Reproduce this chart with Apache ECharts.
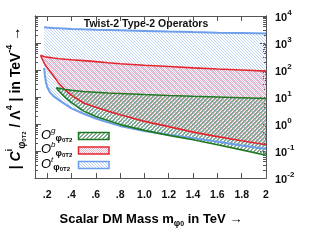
<!DOCTYPE html>
<html><head><meta charset="utf-8">
<script src="https://cdn.jsdelivr.net/npm/echarts@6/dist/echarts.min.js"></script>
<style>html,body{margin:0;padding:0;background:#fff}#c{width:327px;height:245px}</style>
</head><body><div id="c"></div>
<script>
// ---- data ----
const xTickValues = [0.2,0.4,0.6,0.8,1.0,1.2,1.4,1.6,1.8,2.0];
const yDecades = [0.01,0.1,1,10,100,1000,10000];

const blueX     = [0.175,0.18,0.19,0.2,0.22,0.25,0.3,0.4,0.5,0.6,0.7,0.8,1.0,1.2,1.4,1.6,1.8,2.0];
const blueUpper = [3800,3790,3760,3730,3680,3600,3500,3330,3200,3100,3020,2950,2800,2650,2530,2420,2330,2250];
const blueLower = [120,70,35,24,15.5,11,7.5,3.8,2.4,1.6,1.15,0.85,0.55,0.4,0.3,0.22,0.16,0.118];

const redX      = [0.146,0.16,0.18,0.2,0.214,0.25,0.3,0.35,0.4,0.5,0.6,0.7,0.8,1.0,1.2,1.4,1.6,1.8,2.0];
const redUpper  = [350,330,310,300,293,278,262,250,240,222,205,185,170,150,134,120,109,100,91];
const redLower  = [350,250,165,120,100,62,30,18,11.5,6.0,4.2,3.0,2.2,1.25,0.8,0.5,0.34,0.24,0.17];

const greenX     = [0.276,0.3,0.35,0.4,0.5,0.6,0.7,0.8,1.0,1.2,1.4,1.6,1.8,2.0];
const greenUpper = [22,21,19,17.8,16,15,14,13.5,12.3,11.4,10.6,10,9.4,8.8];
const greenLower = [22,16,9.5,6.2,3.0,1.9,1.35,0.95,0.58,0.38,0.26,0.17,0.11,0.07];

const legendNames = ['g','b','t'];

// ---- patterns ----
function makeTile(w,h,fn){
  const c=document.createElement('canvas'); c.width=w; c.height=h;
  const g=c.getContext('2d');
  for(let y=0;y<h;y++) for(let x=0;x<w;x++){ const col=fn(x,y); if(col){g.fillStyle=col; g.fillRect(x,y,1,1);} }
  return {image:c, repeat:'repeat'};
}
const bluePat  = makeTile(3,3,(x,y)=> (x===y) ? '#bcd3f4' : null);
const redPat   = makeTile(2,2,(x,y)=> ((x+y)%2===0) ? '#ebb2cc' : null);
const greenPat = makeTile(4,4,(x,y)=> ((x+y)%4<2) ? '#82a98d' : null);

const BLUE='#6d9eea', RED='#e3262d', GREEN='#1f7a22';
const FONT='Liberation Sans, Arial, sans-serif';

function band(name, xs, up, lo, pat){
  return {type:'custom', name, silent:true, clip:true, xAxisIndex:0, yAxisIndex:0,
    data:[[1,1]],
    renderItem:(params, api)=>{
      const pts=[];
      for(let i=0;i<xs.length;i++) pts.push(api.coord([xs[i], up[i]]));
      for(let i=xs.length-1;i>=0;i--) pts.push(api.coord([xs[i], lo[i]]));
      return {type:'polygon', shape:{points:pts}, style:{fill:pat, stroke:null}};
    }};
}
function line(xs, ys, color, w){
  return {type:'line', xAxisIndex:0, yAxisIndex:0, data:xs.map((x,i)=>[x,ys[i]]),
    showSymbol:false, silent:true, lineStyle:{color, width:w}, itemStyle:{color}, z:5};
}

const minorVals=[];
for(let d=-2; d<4; d++) for(let m=2;m<10;m++) minorVals.push(m*Math.pow(10,d));

function fmtX(v){ const r=Math.round(v*10)/10; if(r===2) return '2'; if(r<1) return '.'+Math.round(r*10); return r.toFixed(1); }

const axisCommon = {axisLine:{show:true, lineStyle:{color:'#555', width:1}}, splitLine:{show:false}};

const xAxes = [
  Object.assign({type:'value', min:0.1, max:2, position:'bottom',
    axisTick:{inside:true, length:5, customValues:xTickValues, lineStyle:{color:'#555'}},
    axisLabel:{customValues:xTickValues, formatter:fmtX, fontFamily:FONT, fontWeight:'bold', fontSize:10.5, color:'#111', margin:12}}, axisCommon),
  Object.assign({type:'value', min:0.1, max:2, position:'top',
    axisTick:{inside:true, length:5, customValues:xTickValues, lineStyle:{color:'#555'}},
    axisLabel:{show:false}}, axisCommon)
];
const yAxes = [
  Object.assign({type:'log', logBase:10, min:0.01, max:10000, position:'left',
    axisTick:{inside:true, length:6, customValues:yDecades, lineStyle:{color:'#555'}}, axisLabel:{show:false}}, axisCommon),
  Object.assign({type:'log', logBase:10, min:0.01, max:10000, position:'left',
    axisTick:{inside:true, length:3, customValues:minorVals, lineStyle:{color:'#555'}}, axisLabel:{show:false}}, axisCommon),
  Object.assign({type:'log', logBase:10, min:0.01, max:10000, position:'right',
    axisTick:{inside:true, length:6, customValues:yDecades, lineStyle:{color:'#555'}},
    axisLabel:{customValues:yDecades, margin:9, formatter:v=>'{b|10}{s|'+Math.round(Math.log10(v))+'}',
      rich:{b:{fontFamily:FONT, fontWeight:'bold', fontSize:11, color:'#111', lineHeight:15, padding:[3,0,0,0]},
            s:{fontFamily:FONT, fontWeight:'bold', fontSize:8, color:'#111', lineHeight:9, verticalAlign:'top'}}}}, axisCommon),
  Object.assign({type:'log', logBase:10, min:0.01, max:10000, position:'right',
    axisTick:{inside:true, length:3, customValues:minorVals, lineStyle:{color:'#555'}}, axisLabel:{show:false}}, axisCommon)
];

const txtRich = {
  m:{fontFamily:FONT, fontWeight:'bold', fontSize:14, color:'#111', lineHeight:22},
  it:{fontFamily:FONT, fontWeight:'bold', fontStyle:'italic', fontSize:14, color:'#111', lineHeight:22},
  sup:{fontFamily:FONT, fontWeight:'bold', fontSize:9, color:'#111', lineHeight:12, verticalAlign:'top'},
  sphi:{fontFamily:FONT, fontWeight:'bold', fontSize:10, color:'#111', lineHeight:12, verticalAlign:'bottom'},
  s0:{fontFamily:FONT, fontWeight:'bold', fontSize:6, color:'#111', lineHeight:22, verticalAlign:'bottom'},
  sT:{fontFamily:FONT, fontWeight:'bold', fontSize:6, color:'#111', lineHeight:6, verticalAlign:'bottom'}
};
const xRich = {
  m:{fontFamily:FONT, fontWeight:'bold', fontSize:13, color:'#111', lineHeight:18},
  sphi:{fontFamily:FONT, fontWeight:'bold', fontSize:9, color:'#111', lineHeight:10, verticalAlign:'bottom'},
  s0:{fontFamily:FONT, fontWeight:'bold', fontSize:7, color:'#111', lineHeight:13, verticalAlign:'bottom'}
};
const legRich = {
  o:{fontFamily:FONT, fontStyle:'italic', fontSize:13, color:'#111', lineHeight:16},
  s:{fontFamily:FONT, fontStyle:'italic', fontSize:8, color:'#111', lineHeight:9, verticalAlign:'top'},
  p:{fontFamily:FONT, fontWeight:'bold', fontSize:9, color:'#111', lineHeight:10, verticalAlign:'bottom'},
  p0:{fontFamily:FONT, fontWeight:'bold', fontSize:6, color:'#111', lineHeight:17, verticalAlign:'bottom'},
  pt:{fontFamily:FONT, fontWeight:'bold', fontSize:6, color:'#111', lineHeight:5, verticalAlign:'bottom'}
};

const legendStyles = [[greenPat, GREEN],[redPat, RED],[bluePat, BLUE]];
const legendRows = [136, 150.5, 165];
const graphics = [
  {type:'text', x:146, y:24, style:{text:'Twist-2 Type-2 Operators', font:'bold 10.5px '+FONT, fill:'#111', align:'center', verticalAlign:'middle'}, z:20},
  {type:'text', x:151, y:219, style:{text:'{m|Scalar DM Mass m}{sphi|φ}{s0|0}{m| in TeV →}', rich:xRich, align:'center', verticalAlign:'middle'}, z:20},
  {type:'text', x:16, y:98, rotation:Math.PI/2, style:{text:'{m|| }{it|C}{sup|i}{sphi|φ}{s0|0}{sT|T2}{m| / Λ}{sup|4}{m| | in TeV}{sup|-4}{m| →}', rich:txtRich, align:'center', verticalAlign:'middle'}, z:20}
];
legendNames.forEach((n,i)=>{
  graphics.push({type:'text', x:41, y:legendRows[i]-1, style:{text:'{o|O}{s|'+n+'}{p|φ}{p0|0}{pt|T2}', rich:legRich, align:'left', verticalAlign:'middle'}, z:20});
  graphics.push({type:'rect', shape:{x:78.5, y:legendRows[i]-3.5, width:30.5, height:7}, style:{fill:legendStyles[i][0], stroke:legendStyles[i][1], lineWidth:1.5}, z:20});
});

const chart = echarts.init(document.getElementById('c'), null, {renderer:'canvas'});
chart.setOption({
  animation:false,
  backgroundColor:'#fff',
  grid:{left:35, right:61, top:16, bottom:67, containLabel:false},
  xAxis:xAxes, yAxis:yAxes,
  series:[
    band('t', blueX, blueUpper, blueLower, bluePat),
    band('b', redX, redUpper, redLower, redPat),
    band('g', greenX, greenUpper, greenLower, greenPat),
    line(blueX, blueUpper, BLUE, 2), line(blueX, blueLower, BLUE, 2),
    line(redX, redUpper, RED, 1.6), line(redX, redLower, RED, 1.6),
    line(greenX, greenUpper, GREEN, 1.6), line(greenX, greenLower, GREEN, 1.6)
  ],
  graphic:graphics
});
</script></body></html>
